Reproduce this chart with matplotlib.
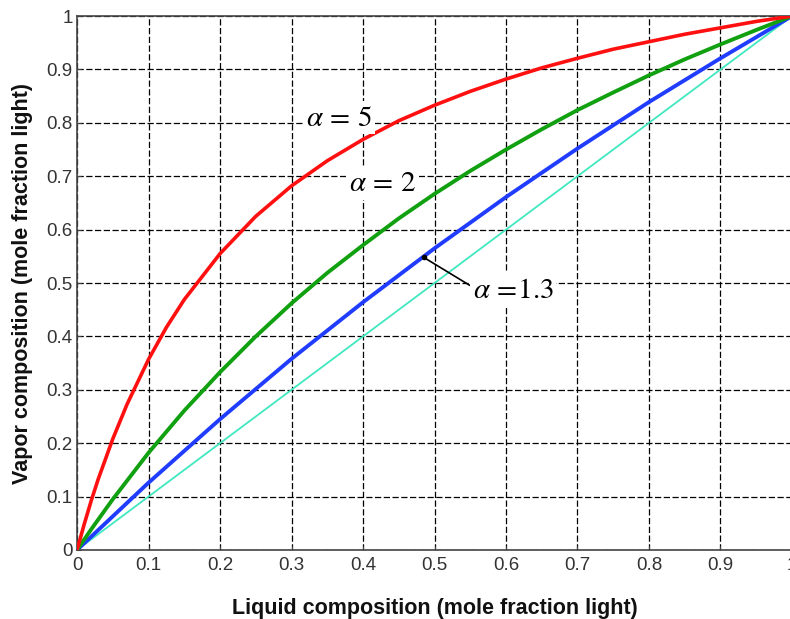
import matplotlib.pyplot as plt

plt.rcParams['font.family'] = ['Liberation Sans', 'DejaVu Sans']
plt.rcParams['mathtext.fontset'] = 'stix'

# values
x_red = [0, 0.01, 0.02, 0.03, 0.05, 0.07, 0.1, 0.125, 0.15, 0.2, 0.25, 0.3, 0.35,
         0.4, 0.45, 0.5, 0.55, 0.6, 0.65, 0.7, 0.75, 0.8, 0.85, 0.9, 0.95, 1.0]
y_red = [0, 0.048, 0.093, 0.134, 0.208, 0.273, 0.357, 0.417, 0.469, 0.555, 0.625, 0.682, 0.729,
         0.769, 0.804, 0.833, 0.859, 0.882, 0.903, 0.921, 0.938, 0.952, 0.966, 0.978, 0.99, 1.0]

x_green = [0, 0.02, 0.05, 0.1, 0.15, 0.2, 0.25, 0.3, 0.35, 0.4, 0.45, 0.5,
           0.55, 0.6, 0.65, 0.7, 0.75, 0.8, 0.85, 0.9, 0.95, 1.0]
y_green = [0, 0.039, 0.095, 0.182, 0.261, 0.333, 0.4, 0.462, 0.519, 0.571, 0.621, 0.667,
           0.71, 0.75, 0.788, 0.824, 0.857, 0.889, 0.919, 0.947, 0.974, 1.0]

x_blue = [0, 0.1, 0.2, 0.3, 0.4, 0.5, 0.6, 0.7, 0.8, 0.9, 1.0]
y_blue = [0, 0.126, 0.245, 0.358, 0.464, 0.565, 0.661, 0.752, 0.839, 0.921, 1.0]

x_diag = [0, 1.0]
y_diag = [0, 1.0]

ticks = [0, 0.1, 0.2, 0.3, 0.4, 0.5, 0.6, 0.7, 0.8, 0.9, 1]
tick_labels = ['0', '0.1', '0.2', '0.3', '0.4', '0.5', '0.6', '0.7', '0.8', '0.9', '1']

fig = plt.figure(figsize=(7.9, 6.19), dpi=100)
ax = fig.add_axes([0.0975, 0.1115, 0.905, 0.8625])

ax.plot(x_diag, y_diag, color='#40e8c0', lw=1.3, zorder=3)
ax.plot(x_blue, y_blue, color='#1f3cff', lw=2.8, zorder=4)
ax.plot(x_green, y_green, color='#10a010', lw=2.8, zorder=4)
ax.plot(x_red, y_red, color='#ff1010', lw=2.6, zorder=4)

ax.set_xlim(0, 1)
ax.set_ylim(0, 1)
ax.set_xticks(ticks)
ax.set_xticklabels(tick_labels)
ax.set_yticks(ticks)
ax.set_yticklabels(tick_labels)
ax.tick_params(direction='in', length=3, labelsize=13.5, labelcolor='#333333', color='#444444')
ax.tick_params(axis='x', pad=5)
ax.tick_params(axis='y', pad=3)
ax.grid(True, color='black', linestyle=(0, (5, 2)), linewidth=0.9)
for s in ax.spines.values():
    s.set_color('#444444')
    s.set_linewidth(1.2)

box = dict(facecolor='white', edgecolor='none', pad=2)
ax.text(0.366, 0.81, r'$\alpha\,=\,5$', fontsize=21, ha='center', va='center', bbox=box, zorder=5)
ax.text(0.427, 0.687, r'$\alpha\,=\,2$', fontsize=21, ha='center', va='center', bbox=box, zorder=5)
ax.annotate(r'$\alpha\,=\!1.3$', xy=(0.485, 0.548), xytext=(0.61, 0.487),
            fontsize=21, ha='center', va='center', bbox=box, zorder=5,
            arrowprops=dict(arrowstyle='-', color='black', lw=1.2, shrinkA=0, shrinkB=0,
                            relpos=(0, 0.6)))
ax.plot([0.485], [0.548], marker='o', ms=3, color='black', zorder=6)

ax.set_xlabel('Liquid composition (mole fraction light)', fontsize=15.5, fontweight='bold',
              labelpad=17, color='#111111')
ax.set_ylabel('Vapor composition (mole fraction light)', fontsize=15.5, fontweight='bold',
              labelpad=10, color='#111111')

fig.savefig('out.png', dpi=100)
